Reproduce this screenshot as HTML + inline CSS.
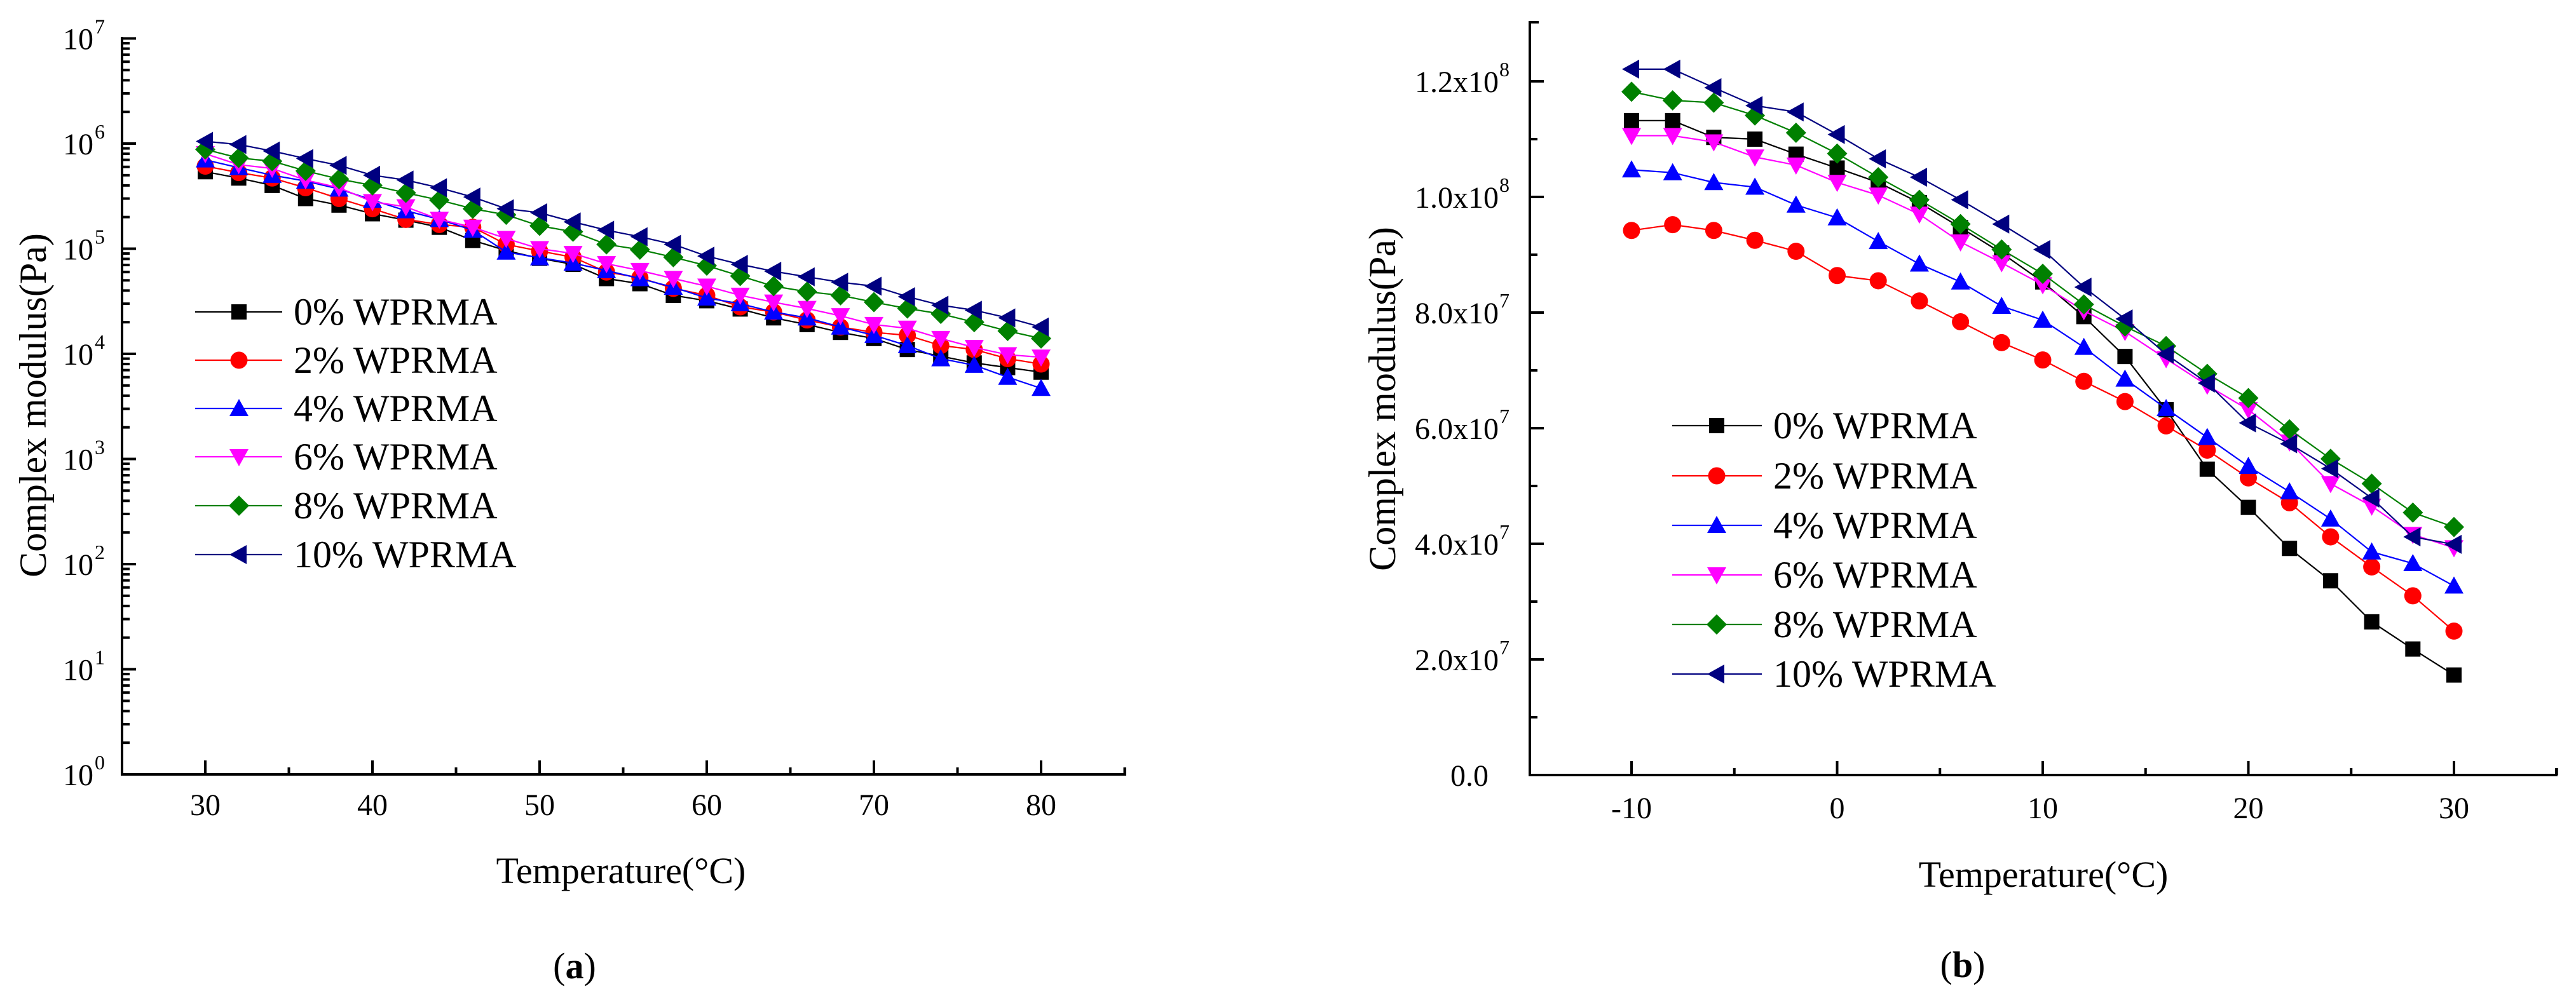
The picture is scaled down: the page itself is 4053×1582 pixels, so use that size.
<!DOCTYPE html>
<html><head><meta charset="utf-8"><style>
html,body{margin:0;padding:0;background:#fff;}
svg{display:block;font-family:"Liberation Serif",serif;}
svg text{font-family:"Liberation Serif","Times New Roman",serif;}
</style></head><body>
<svg id="fig" width="4053" height="1582" viewBox="0 0 4053 1582" xmlns="http://www.w3.org/2000/svg" font-family="Liberation Serif, serif">
<g id="chartA"></g>
<g id="chartB"></g>
</svg>
<script>
const seriesNames = ["0% WPRMA","2% WPRMA","4% WPRMA","6% WPRMA","8% WPRMA","10% WPRMA"];
const seriesColors = ["#000000","#ff0000","#0000ff","#ff00ff","#008000","#000080"];
const seriesMarkers = ["square","circle","up","down","diamond","left"];

const tempsA = [30,32,34,36,38,40,42,44,46,48,50,52,54,56,58,60,62,64,66,68,70,72,74,76,78,80];
const a0 = [5.4e5,4.7e5,4.0e5,3.0e5,2.6e5,2.15e5,1.87e5,1.6e5,1.2e5,9.6e4,8.1e4,7.1e4,5.2e4,4.65e4,3.6e4,3.2e4,2.67e4,2.2e4,1.9e4,1.6e4,1.4e4,1.1e4,9.5e3,8.2e3,7.4e3,6.7e3];
const a2 = [6.1e5,5.3e5,4.7e5,3.8e5,3.0e5,2.4e5,1.9e5,1.7e5,1.6e5,1.1e5,9.5e4,8.3e4,6.0e4,5.3e4,4.2e4,3.6e4,2.8e4,2.5e4,2.1e4,1.8e4,1.6e4,1.5e4,1.2e4,1.1e4,9.0e3,8.0e3];
const a4 = [7.0e5,5.9e5,5.0e5,4.4e5,3.7e5,2.9e5,2.3e5,1.9e5,1.5e5,9.3e4,8.2e4,7.3e4,6.2e4,5.2e4,4.3e4,3.4e4,3.0e4,2.5e4,2.2e4,1.8e4,1.5e4,1.2e4,9.0e3,7.8e3,6.0e3,4.7e3];
const a6 = [8.0e5,6.3e5,5.8e5,4.5e5,3.8e5,2.8e5,2.5e5,1.9e5,1.6e5,1.25e5,1.0e5,9.0e4,7.2e4,6.2e4,5.2e4,4.4e4,3.6e4,3.1e4,2.7e4,2.3e4,1.9e4,1.75e4,1.4e4,1.15e4,9.8e3,9.3e3];
const a8 = [8.8e5,7.3e5,6.8e5,5.5e5,4.6e5,4.0e5,3.4e5,2.9e5,2.4e5,2.1e5,1.65e5,1.45e5,1.1e5,9.8e4,8.3e4,6.9e4,5.5e4,4.4e4,3.9e4,3.6e4,3.1e4,2.7e4,2.4e4,2.0e4,1.65e4,1.4e4];
const a10 = [1.05e6,9.8e5,8.5e5,7.2e5,6.2e5,5.0e5,4.5e5,3.8e5,3.1e5,2.4e5,2.2e5,1.8e5,1.5e5,1.3e5,1.1e5,8.5e4,7.1e4,6.1e4,5.4e4,4.8e4,4.4e4,3.5e4,2.9e4,2.6e4,2.2e4,1.8e4];
const xTicksA = [30,40,50,60,70,80];
const yExpA = [0,1,2,3,4,5,6,7];

const tempsB = [-10,-8,-6,-4,-2,0,2,4,6,8,10,12,14,16,18,20,22,24,26,28,30];
const b0 = [1.132e8,1.132e8,1.103e8,1.10e8,1.074e8,1.05e8,1.025e8,0.99e8,0.947e8,0.903e8,0.853e8,0.793e8,0.724e8,0.632e8,0.529e8,0.463e8,0.392e8,0.336e8,0.265e8,0.218e8,0.173e8];
const b2 = [0.942e8,0.952e8,0.942e8,0.925e8,0.906e8,0.864e8,0.855e8,0.82e8,0.784e8,0.748e8,0.718e8,0.681e8,0.646e8,0.604e8,0.562e8,0.514e8,0.471e8,0.412e8,0.36e8,0.31e8,0.249e8];
const b4 = [1.047e8,1.042e8,1.025e8,1.017e8,0.986e8,0.964e8,0.923e8,0.884e8,0.853e8,0.811e8,0.787e8,0.74e8,0.685e8,0.634e8,0.584e8,0.534e8,0.49e8,0.443e8,0.386e8,0.366e8,0.327e8];
const b6 = [1.106e8,1.106e8,1.095e8,1.069e8,1.055e8,1.025e8,1.003e8,0.97e8,0.922e8,0.886e8,0.848e8,0.803e8,0.767e8,0.72e8,0.674e8,0.632e8,0.576e8,0.504e8,0.465e8,0.416e8,0.393e8];
const b8 = [1.182e8,1.167e8,1.163e8,1.141e8,1.111e8,1.075e8,1.034e8,0.995e8,0.953e8,0.909e8,0.867e8,0.814e8,0.776e8,0.742e8,0.694e8,0.652e8,0.598e8,0.547e8,0.504e8,0.454e8,0.429e8];
const b10 = [1.221e8,1.221e8,1.189e8,1.158e8,1.147e8,1.108e8,1.066e8,1.034e8,0.995e8,0.953e8,0.909e8,0.844e8,0.789e8,0.728e8,0.678e8,0.609e8,0.573e8,0.53e8,0.479e8,0.412e8,0.399e8];
const xTicksB = [-10,0,10,20,30];
const yTicksB = [0,2e7,4e7,6e7,8e7,1.0e8,1.2e8];
const yTickLabelsB = [["0.0",""],["2.0x10","7"],["4.0x10","7"],["6.0x10","7"],["8.0x10","7"],["1.0x10","8"],["1.2x10","8"]];

const NS = "http://www.w3.org/2000/svg";
function mk(tag, attrs, parent) {
  const e = document.createElementNS(NS, tag);
  for (const k in attrs) e.setAttribute(k, attrs[k]);
  parent.appendChild(e);
  return e;
}
function marker(type, cx, cy, color, parent) {
  let e;
  if (type === "square") e = mk("rect", {x: cx - 12, y: cy - 12, width: 24, height: 24, fill: color}, parent);
  else if (type === "circle") e = mk("circle", {cx: cx, cy: cy, r: 13.5, fill: color}, parent);
  else if (type === "up") e = mk("polygon", {points: `${cx},${cy-15} ${cx+15},${cy+12} ${cx-15},${cy+12}`, fill: color}, parent);
  else if (type === "down") e = mk("polygon", {points: `${cx},${cy+15} ${cx+15},${cy-12} ${cx-15},${cy-12}`, fill: color}, parent);
  else if (type === "diamond") e = mk("polygon", {points: `${cx},${cy-16} ${cx+16},${cy} ${cx},${cy+16} ${cx-16},${cy}`, fill: color}, parent);
  else e = mk("polygon", {points: `${cx-15},${cy} ${cx+12},${cy-15} ${cx+12},${cy+15}`, fill: color}, parent);
  
  
  return e;
}
function text(parent, x, y, str, size, anchor, extra) {
  const t = mk("text", Object.assign({x: x, y: y, "font-size": size, "font-family": "Liberation Serif, serif", "text-anchor": anchor || "middle", fill: "#000"}, extra || {}), parent);
  t.textContent = str;
  return t;
}

// ---------- Chart A ----------
(function () {
  const g = document.getElementById("chartA");
  const X0 = 192, X1 = 1770, Y0 = 1219, YT = 60;
  const xs = v => 323 + (v - 30) * 26.3;
  const ys = v => Y0 - Math.log10(v) * 165.5;
  const series = [a0, a2, a4, a6, a8, a10];
  series.forEach((vals, i) => {
    const sg = mk("g", {}, g);
    
    
    const pts = vals.map((v, j) => xs(tempsA[j]) + "," + ys(v)).join(" ");
    mk("polyline", {points: pts, fill: "none", stroke: seriesColors[i], "stroke-width": 2.2}, sg);
    vals.forEach((v, j) => marker(seriesMarkers[i], xs(tempsA[j]), ys(v), seriesColors[i], sg));
  });
  const ax = mk("g", {stroke: "#000", "stroke-width": 4, fill: "none"}, g);
  
  
  mk("path", {d: `M${X0},${YT} V${Y0} H${X1}`, "stroke-linecap": "square"}, ax);
  mk("line", {x1: X1, y1: Y0, x2: X1, y2: Y0 - 11}, ax);
  for (let v = 35; v <= 85; v += 10) mk("line", {x1: xs(v), y1: Y0, x2: xs(v), y2: Y0 - 11}, ax);
  xTicksA.forEach(v => {
    mk("line", {x1: xs(v), y1: Y0, x2: xs(v), y2: Y0 - 22}, ax);
    const t = text(g, xs(v), 1283, String(v), 48);
    
    
  });
  yExpA.forEach(e => {
    const y = Y0 - e * 165.5;
    mk("line", {x1: X0, y1: y, x2: X0 + 22, y2: y}, ax);
    if (e < 7) for (let m = 2; m <= 9; m++) {
      const yy = Y0 - (e + Math.log10(m)) * 165.5;
      mk("line", {x1: X0, y1: yy, x2: X0 + 12, y2: yy}, ax);
    }
    const t = text(g, 147, y + 17, "10", 48, "end");
    
    
    const s = text(g, 149, y - 8, String(e), 32, "start");
    
    
  });
  const yl = text(g, 0, 0, "Complex modulus(Pa)", 60, "middle", {transform: "translate(72,638) rotate(-90)"});
  
  
  const xl = text(g, 977, 1390, "Temperature(°C)", 58);
  
  
  const cap = text(g, 904, 1540, "(", 58);
  cap.innerHTML = '(<tspan font-weight="bold">a</tspan>)';
  
  
  const legY = [491, 567, 643, 719, 796, 873];
  const lg = mk("g", {}, g);
  
  
  seriesNames.forEach((n, i) => {
    const eg = mk("g", {}, lg);
    
    
    mk("line", {x1: 307, y1: legY[i], x2: 444, y2: legY[i], stroke: seriesColors[i], "stroke-width": 2.2}, eg);
    marker(seriesMarkers[i], 376, legY[i], seriesColors[i], eg);
    text(eg, 462, legY[i] + 20, n, 60, "start");
  });
})();

// ---------- Chart B ----------
(function () {
  const g = document.getElementById("chartB");
  const X0 = 2407, X1 = 4022, Y0 = 1220, YT = 35;
  const xs = v => 2567 + (v + 10) * 32.35;
  const ys = v => Y0 - v / 2e7 * 182;
  const series = [b0, b2, b4, b6, b8, b10];
  series.forEach((vals, i) => {
    const sg = mk("g", {}, g);
    
    
    const pts = vals.map((v, j) => xs(tempsB[j]) + "," + ys(v)).join(" ");
    mk("polyline", {points: pts, fill: "none", stroke: seriesColors[i], "stroke-width": 2.2}, sg);
    vals.forEach((v, j) => marker(seriesMarkers[i], xs(tempsB[j]), ys(v), seriesColors[i], sg));
  });
  const ax = mk("g", {stroke: "#000", "stroke-width": 4, fill: "none"}, g);
  
  
  mk("path", {d: `M${X0 + 12},${YT} H${X0} V${Y0} H${X1}`, "stroke-linecap": "square"}, ax);
  mk("line", {x1: X1, y1: Y0, x2: X1, y2: Y0 - 11}, ax);
  for (let v = -5; v <= 35; v += 10) mk("line", {x1: xs(v), y1: Y0, x2: xs(v), y2: Y0 - 11}, ax);
  xTicksB.forEach(v => {
    mk("line", {x1: xs(v), y1: Y0, x2: xs(v), y2: Y0 - 22}, ax);
    const t = text(g, xs(v), 1288, String(v), 48);
    
    
  });
  for (let v = 1e7; v < 1.3e8; v += 2e7) mk("line", {x1: X0, y1: ys(v), x2: X0 + 12, y2: ys(v)}, ax);
  yTicksB.forEach((v, i) => {
    const y = ys(v);
    mk("line", {x1: X0, y1: y, x2: X0 + 22, y2: y}, ax);
    const lab = yTickLabelsB[i];
    const t = text(g, lab[1] ? 2358 : 2342, y + 17, lab[0], 48, "end");
    
    
    if (lab[1]) {
      const s = text(g, 2359, y - 8, lab[1], 32, "start");
      
      
    }
  });
  const yl = text(g, 0, 0, "Complex modulus(Pa)", 60, "middle", {transform: "translate(2195,628) rotate(-90)"});
  
  
  const xl = text(g, 3215, 1396, "Temperature(°C)", 58);
  
  
  const cap = text(g, 3088, 1538, "(", 58);
  cap.innerHTML = '(<tspan font-weight="bold">b</tspan>)';
  
  
  const legY = [670, 749, 827, 905, 983, 1061];
  const lg = mk("g", {}, g);
  
  
  seriesNames.forEach((n, i) => {
    const eg = mk("g", {}, lg);
    
    
    mk("line", {x1: 2631, y1: legY[i], x2: 2772, y2: legY[i], stroke: seriesColors[i], "stroke-width": 2.2}, eg);
    marker(seriesMarkers[i], 2701, legY[i], seriesColors[i], eg);
    text(eg, 2790, legY[i] + 20, n, 60, "start");
  });
})();
</script>
</body></html>
